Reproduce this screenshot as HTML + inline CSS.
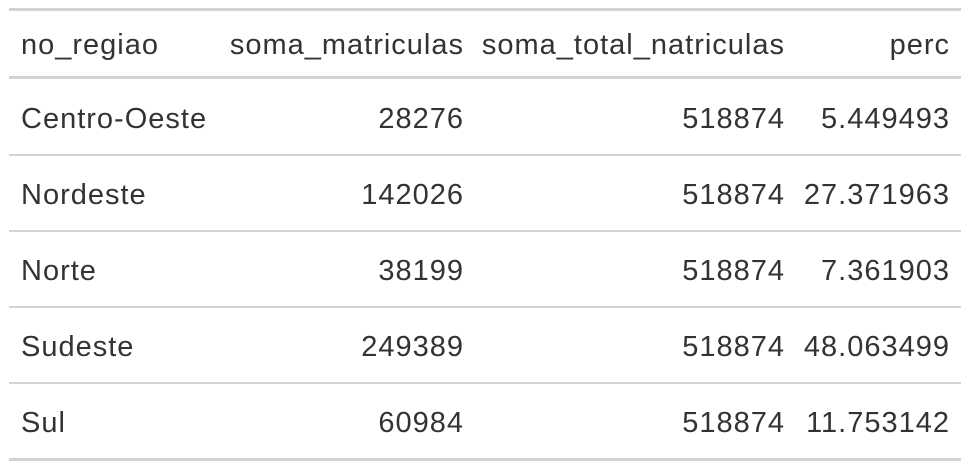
<!DOCTYPE html>
<html><head><meta charset="utf-8"><style>
body{margin:0;width:970px;height:470px;background:#fff;position:relative;overflow:hidden;font-family:"Liberation Sans",sans-serif;color:#333;}
.l{position:absolute;left:9px;width:952px;background:#d3d3d3;}
.c{position:absolute;font-size:29px;letter-spacing:1px;line-height:34px;white-space:nowrap;}
.r{text-align:right;}
</style></head><body>
<div>
<div class="l" style="top:8px;height:3px"></div>
<div class="l" style="top:76px;height:3px"></div>
<div class="l" style="top:154px;height:2px"></div>
<div class="l" style="top:230px;height:2px"></div>
<div class="l" style="top:306px;height:2px"></div>
<div class="l" style="top:382px;height:2px"></div>
<div class="l" style="top:458px;height:3px"></div>
<div id="cells"></div>
</div>
<script>
const headers=["no_regiao","soma_matriculas","soma_total_natriculas","perc"];
const regions=["Centro-Oeste","Nordeste","Norte","Sudeste","Sul"];
const matriculas=["28276","142026","38199","249389","60984"];
const totals=["518874","518874","518874","518874","518874"];
const percs=["5.449493","27.371963","7.361903","48.063499","11.753142"];
const cont=document.getElementById('cells');
function cell(text,col,cy,name){
  const d=document.createElement('div');
  
  
  d.className='c';
  d.textContent=text;
  d.style.top=(cy-17)+'px';
  if(col===0){d.style.left='21px';}
  else{d.classList.add('r');const rights=[0,463,784,949];d.style.right=(970-rights[col]-1)+'px';}
  cont.appendChild(d);
}
headers.forEach((h,i)=>cell(h,i,45,'header-'+h.replace(/_/g,'-')));
regions.forEach((r,i)=>{
  const cy=119+i*76;
  cell(r,0,cy,'cell-region');
  cell(matriculas[i],1,cy,'cell-soma-matriculas');
  cell(totals[i],2,cy,'cell-soma-total');
  cell(percs[i],3,cy,'cell-perc');
});
</script>
</body></html>
